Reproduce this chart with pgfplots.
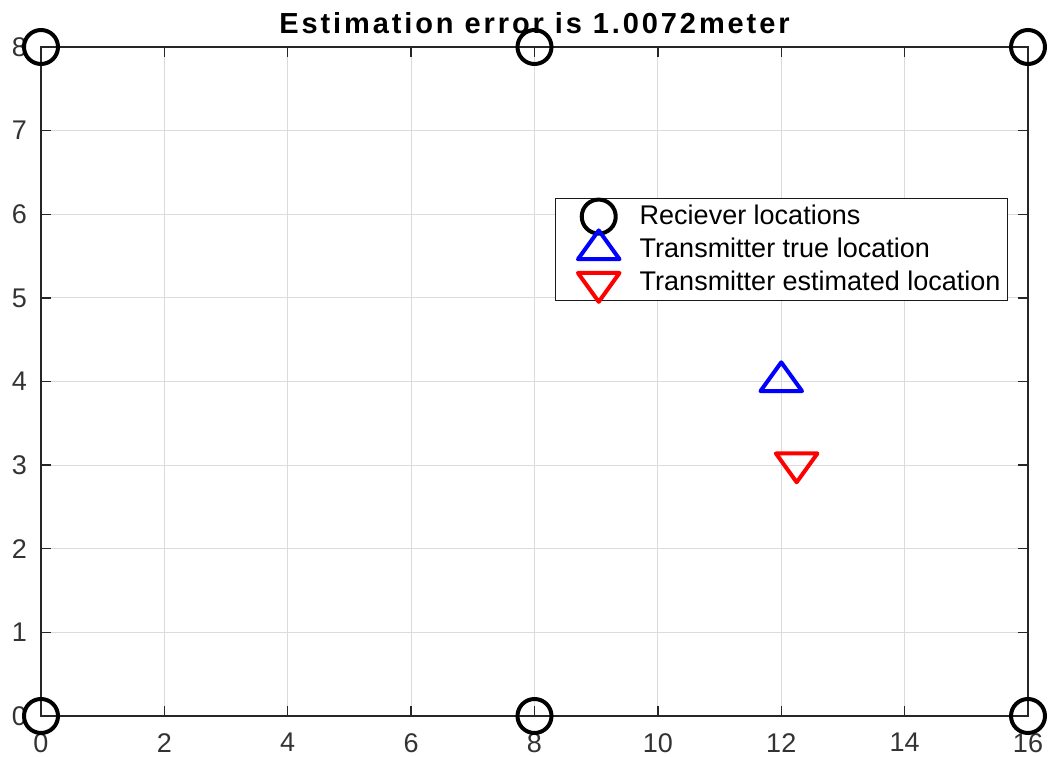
\documentclass[border=0pt]{standalone}
\usepackage{pgfplots}
\pgfplotsset{compat=1.18}
\usetikzlibrary{calc}
\usepackage{fontspec}
\setmainfont{Liberation Sans}
\begin{document}
\fontsize{27pt}{32.4pt}\selectfont
\begin{tikzpicture}
\begin{axis}[
  name=ax,
  scale only axis, width=987pt, height=669pt,
  xmin=0, xmax=16, ymin=0, ymax=8,
  xtick={0,2,...,16}, ytick={0,1,...,8},
  tick align=inside, major tick length=10pt,
  grid=major, major grid style={line width=1pt, color=black!14},
  axis line style={line width=1.3pt, color=black!85},
  tick style={line width=1.3pt, color=black!85},
  ticklabel style={font=\fontsize{27pt}{32pt}\selectfont, text=black!80},
  /pgf/number format/assume math mode=true,
  xticklabel style={yshift=-8pt},
  yticklabel style={xshift=-5pt},
  title={\addfontfeatures{LetterSpace=10}Estimation error is 1.0072meter},
  title style={font=\fontsize{29pt}{32pt}\selectfont\bfseries, at={(0.5,1)}, anchor=base, yshift=7pt, inner sep=0pt},
  clip=false,
  legend style={at={(0.9797,0.7743)}, anchor=north east, draw=black!90, line width=1.2pt,
    inner xsep=7pt, inner ysep=1.5pt, font=\fontsize{27pt}{32pt}\selectfont,
    nodes={inner sep=0pt}, cells={anchor=west}, row sep=0pt},
  legend image code/.code={\path[draw=none, fill=none] (0pt,-16.5pt) rectangle (77pt,16.5pt); \draw[#1, overlay] plot coordinates {(36pt,0pt)};},
]
\addplot[only marks, mark=o, mark size=17pt, line width=4pt, black]
  coordinates {(0,0) (8,0) (16,0) (0,8) (8,8) (16,8)};
\addlegendentry{Reciever locations}
\addplot[only marks, mark=triangle, mark size=24pt, line width=4pt, blue,
  mark options={yscale=0.8, line join=round}]
  coordinates {(12,4)};
\addlegendentry{Transmitter true location}
\addplot[only marks, mark=triangle, mark size=24pt, line width=4pt, red,
  mark options={rotate=180, yscale=0.8, line join=round}]
  coordinates {(12.25,3.025)};
\addlegendentry{Transmitter estimated location\hspace{4pt}}
\end{axis}
\pgfresetboundingbox
\path ($(ax.south west)+(-41pt,-41pt)$) rectangle ($(ax.north east)+(26pt,47pt)$);
\end{tikzpicture}
\end{document}
